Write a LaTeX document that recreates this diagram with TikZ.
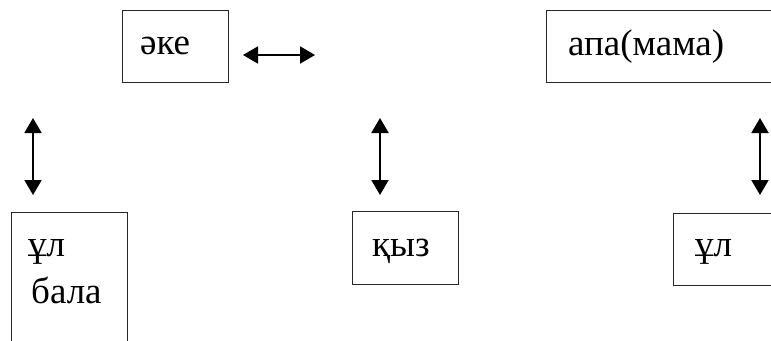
\documentclass[tikz,border=0pt]{standalone}
\usepackage{fontspec}
\setmainfont{Liberation Serif}
\usetikzlibrary{arrows.meta}
\begin{document}
\begin{tikzpicture}[x=1pt,y=-1pt,
  box/.style={draw=black!85,line width=0.9pt,inner sep=0pt,anchor=north west},
  lbl/.style={anchor=base west,inner sep=0pt,font=\fontsize{37}{42}\selectfont},
  dbl/.style={line width=1.9pt,{Triangle[length=15pt,width=17pt]}-{Triangle[length=15pt,width=17pt]}}]
\useasboundingbox (0,0) rectangle (771,340);
% boxes
\node[box,minimum width=106pt,minimum height=72pt] (eke) at (122,10) {};
\node[box,minimum width=225pt,minimum height=72pt] (apa) at (546,10) {};
\node[box,minimum width=116pt,minimum height=130pt] (ul1) at (11,212) {};
\node[box,minimum width=106pt,minimum height=73pt] (kyz) at (352,211) {};
\node[box,minimum width=100pt,minimum height=72pt] (ul2) at (673,213) {};
% labels
\node[lbl] (teke) at (140,54) {әке};
\node[lbl] (tapa) at (568,55) {апа(мама)};
\node[lbl] (tul1) at (28,256) {ұл};
\node[lbl] (tbala) at (31,303) {бала};
\node[lbl] (tkyz) at (372,256) {қыз};
\node[lbl] (tul2) at (695,256) {ұл};
% arrow end points
\coordinate (h1) at (243,55); \coordinate (h2) at (315,55);
\coordinate (a1) at (33,118); \coordinate (a2) at (33,195);
\coordinate (b1) at (380,118); \coordinate (b2) at (380,195);
\coordinate (c1) at (760,118); \coordinate (c2) at (760,195);
\draw[dbl] (h1) -- (h2);
\draw[dbl] (a1) -- (a2);
\draw[dbl] (b1) -- (b2);
\draw[dbl] (c1) -- (c2);
\end{tikzpicture}
\end{document}
